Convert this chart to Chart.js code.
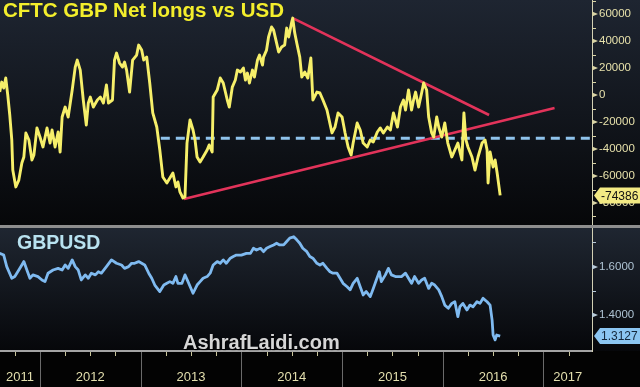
<!DOCTYPE html>
<html>
<head>
<meta charset="utf-8">
<script src="https://cdn.jsdelivr.net/npm/chart.js@4.4.1/dist/chart.umd.min.js"></script>
<style>
  html, body { margin: 0; padding: 0; background: #000; }
  #wrap { position: relative; width: 640px; height: 387px; overflow: hidden; font-family: "Liberation Sans", Arial, sans-serif; }
  #topChart { position: absolute; left: 0; top: 0; }
  #botChart { position: absolute; left: 0; top: 228px; }
  .sep { position: absolute; left: 0; top: 225px; width: 640px; height: 3px; background: #8e8e8e; }
  .title { position: absolute; left: 3px; top: 0; font-weight: bold; font-size: 20.5px; line-height: 20.5px; color: #f3ee2c; white-space: nowrap; }
  .pair { position: absolute; left: 17px; top: 233px; font-weight: bold; font-size: 19.5px; line-height: 19.5px; color: #b8e2f0; white-space: nowrap; }
  .mark { position: absolute; left: 183px; top: 332px; font-weight: bold; font-size: 20px; line-height: 20px; color: #d6d6d6; white-space: nowrap; text-shadow: 1px 1px 1px #000; }
</style>
</head>
<body>
<div id="wrap">
  <canvas id="topChart" width="640" height="225"></canvas>
  <div class="sep"></div>
  <canvas id="botChart" width="640" height="159"></canvas>
  <div class="title">CFTC GBP Net longs vs USD</div>
  <div class="pair">GBPUSD</div>
  <div class="mark">AshrafLaidi.com</div>
</div>
<script>
// time axis in decimal years
const xMin = 2011.603;
const xMax = 2017.482;
const years = [2012, 2013, 2014, 2015, 2016, 2017];

// CFTC GBP net speculative positions (contracts)
const cftcDates = [2011.60, 2011.62, 2011.64, 2011.66, 2011.68, 2011.70, 2011.72, 2011.73, 2011.76, 2011.79,
  2011.82, 2011.84, 2011.86, 2011.89, 2011.92, 2011.94, 2011.97, 2012.00, 2012.03, 2012.07,
  2012.10, 2012.12, 2012.15, 2012.18, 2012.20, 2012.22, 2012.25, 2012.28, 2012.32, 2012.35,
  2012.37, 2012.40, 2012.43, 2012.46, 2012.48, 2012.50, 2012.53, 2012.57, 2012.60, 2012.63,
  2012.66, 2012.68, 2012.72, 2012.74, 2012.76, 2012.79, 2012.82, 2012.84, 2012.86, 2012.89,
  2012.92, 2012.96, 2012.98, 2013.01, 2013.03, 2013.06, 2013.09, 2013.12, 2013.16, 2013.19,
  2013.22, 2013.26, 2013.29, 2013.32, 2013.35, 2013.37, 2013.39, 2013.42, 2013.44, 2013.46,
  2013.49, 2013.52, 2013.54, 2013.56, 2013.59, 2013.62, 2013.66, 2013.68, 2013.71, 2013.72,
  2013.76, 2013.79, 2013.82, 2013.86, 2013.88, 2013.91, 2013.94, 2013.96, 2013.99, 2014.02,
  2014.04, 2014.06, 2014.08, 2014.11, 2014.13, 2014.16, 2014.18, 2014.21, 2014.22, 2014.25,
  2014.27, 2014.30, 2014.32, 2014.35, 2014.37, 2014.40, 2014.43, 2014.45, 2014.47, 2014.50,
  2014.51, 2014.53, 2014.55, 2014.58, 2014.60, 2014.63, 2014.66, 2014.69, 2014.71, 2014.75,
  2014.78, 2014.81, 2014.85, 2014.90, 2014.93, 2014.96, 2015.00, 2015.03, 2015.06, 2015.09,
  2015.11, 2015.15, 2015.18, 2015.21, 2015.25, 2015.28, 2015.31, 2015.35, 2015.38, 2015.41,
  2015.45, 2015.48, 2015.51, 2015.55, 2015.58, 2015.61, 2015.63, 2015.66, 2015.69, 2015.71,
  2015.73, 2015.76, 2015.79, 2015.81, 2015.84, 2015.86, 2015.89, 2015.91, 2015.94, 2015.96,
  2015.99, 2016.02, 2016.05, 2016.09, 2016.12, 2016.15, 2016.19, 2016.21, 2016.23, 2016.25,
  2016.29, 2016.32, 2016.35, 2016.39, 2016.42, 2016.44, 2016.45, 2016.47, 2016.50, 2016.52,
  2016.54, 2016.57];
const cftcValues = [2200, 9600, 5200, 12600, 0, -14800, -33300, -55600, -68100, -63000,
  -50400, -45900, -28100, -33300, -48100, -44400, -24400, -31100, -38500, -24400,
  -35600, -25900, -38500, -27400, -42200, -16300, -8900, -16300, 3700, 20700,
  25900, 18500, -3700, -22200, -5900, -1500, -8900, -3700, -1500, -5900,
  7400, -5900, -3700, 25900, 31100, 23700, 20700, 24400, 18500, 2200,
  25900, 29600, 37000, 33300, 25900, 28100, 8900, -13300, -23700, -40700,
  -60700, -65200, -61500, -57800, -68100, -64400, -71800, -76300, -75600, -35600,
  -18500, -25900, -33300, -45900, -49600, -45900, -40700, -37000, -42200, -1500,
  3700, 12600, 8900, -3700, -8900, 5900, 11100, 18500, 17000, 20000,
  11100, 16300, 8900, 18500, 13300, 25900, 29600, 22200, 28100, 33300,
  43000, 50400, 48100, 38500, 31900, 35600, 37000, 49600, 43000, 54100,
  57000, 45900, 38500, 28100, 13300, 17000, 12600, 27400, -3700, 2200,
  1500, -3700, -11100, -28100, -23700, -13300, -16300, -28100, -38500, -44400,
  -35600, -20700, -25900, -35600, -38500, -33300, -34800, -27400, -24400, -28100,
  -23700, -25900, -13300, -23700, -8900, -3700, -11100, 3700, -11100, -3700,
  2200, -8900, 1500, 8900, 3700, -16300, -28100, -31100, -16300, -23700,
  -31100, -20700, -35600, -45900, -40700, -35600, -48100, -13300, -33300, -38500,
  -45900, -55600, -45900, -35600, -33300, -40700, -65200, -42200, -53300, -48100,
  -57800, -74386];

// trend lines and reference level drawn on the CFTC panel
const trendHighX = [2014.51, 2016.46];
const trendHighY = [57000, -14800];
const trendLowX = [2013.43, 2017.11];
const trendLowY = [-77000, -9600];
const refLevelX = [2013.20, xMax];
const refLevelY = [-32000, -32000];

// GBPUSD spot
const fxDates = [2011.60, 2011.64, 2011.67, 2011.72, 2011.75, 2011.79, 2011.82, 2011.84, 2011.87, 2011.90,
  2011.93, 2011.98, 2012.02, 2012.05, 2012.08, 2012.13, 2012.18, 2012.22, 2012.25, 2012.28,
  2012.32, 2012.35, 2012.38, 2012.41, 2012.45, 2012.48, 2012.51, 2012.55, 2012.58, 2012.61,
  2012.66, 2012.71, 2012.76, 2012.81, 2012.84, 2012.88, 2012.91, 2012.94, 2012.98, 2013.01,
  2013.04, 2013.08, 2013.11, 2013.14, 2013.19, 2013.23, 2013.26, 2013.29, 2013.32, 2013.35,
  2013.37, 2013.41, 2013.44, 2013.47, 2013.52, 2013.56, 2013.59, 2013.62, 2013.66, 2013.69,
  2013.72, 2013.76, 2013.79, 2013.82, 2013.85, 2013.89, 2013.92, 2013.95, 2014.00, 2014.05,
  2014.09, 2014.12, 2014.15, 2014.19, 2014.22, 2014.25, 2014.285, 2014.32, 2014.35, 2014.38,
  2014.42, 2014.45, 2014.48, 2014.52, 2014.55, 2014.58, 2014.61, 2014.65, 2014.68, 2014.71,
  2014.75, 2014.78, 2014.81, 2014.85, 2014.88, 2014.91, 2014.95, 2014.98, 2015.01, 2015.05,
  2015.08, 2015.11, 2015.15, 2015.18, 2015.21, 2015.24, 2015.28, 2015.31, 2015.34, 2015.37,
  2015.39, 2015.43, 2015.46, 2015.49, 2015.53, 2015.56, 2015.59, 2015.63, 2015.66, 2015.69,
  2015.72, 2015.76, 2015.79, 2015.82, 2015.86, 2015.89, 2015.92, 2015.96, 2015.99, 2016.02,
  2016.055, 2016.09, 2016.12, 2016.15, 2016.17, 2016.20, 2016.24, 2016.27, 2016.30, 2016.34,
  2016.37, 2016.40, 2016.44, 2016.47, 2016.49, 2016.50, 2016.52, 2016.535, 2016.57];
const fxValues = [1.655, 1.648, 1.600, 1.552, 1.559, 1.586, 1.607, 1.621, 1.586, 1.552,
  1.566, 1.559, 1.545, 1.538, 1.573, 1.586, 1.593, 1.586, 1.607, 1.593,
  1.628, 1.600, 1.586, 1.545, 1.566, 1.552, 1.573, 1.566, 1.579, 1.573,
  1.600, 1.628, 1.614, 1.607, 1.593, 1.600, 1.614, 1.614, 1.621, 1.614,
  1.607, 1.573, 1.552, 1.524, 1.497, 1.524, 1.531, 1.538, 1.531, 1.559,
  1.531, 1.531, 1.566, 1.538, 1.490, 1.524, 1.538, 1.552, 1.559, 1.573,
  1.607, 1.621, 1.614, 1.628, 1.614, 1.635, 1.642, 1.648, 1.648, 1.655,
  1.655, 1.676, 1.669, 1.676, 1.662, 1.676, 1.683, 1.690, 1.697, 1.690,
  1.690, 1.704, 1.718, 1.724, 1.711, 1.697, 1.676, 1.662, 1.642, 1.635,
  1.614, 1.607, 1.614, 1.593, 1.579, 1.573, 1.573, 1.552, 1.531, 1.517,
  1.504, 1.531, 1.552, 1.517, 1.483, 1.497, 1.476, 1.510, 1.545, 1.579,
  1.538, 1.566, 1.593, 1.566, 1.559, 1.559, 1.559, 1.573, 1.552, 1.531,
  1.559, 1.531, 1.545, 1.552, 1.510, 1.531, 1.524, 1.504, 1.476, 1.441,
  1.428, 1.448, 1.455, 1.393, 1.434, 1.448, 1.421, 1.441, 1.434, 1.455,
  1.448, 1.469, 1.455, 1.441, 1.379, 1.317, 1.297, 1.317, 1.3127];

const cftcTicks = [-90000, -80000, -70000, -60000, -50000, -40000, -30000, -20000, -10000, 0,
  10000, 20000, 30000, 40000, 50000, 60000, 70000];
const fxTicks = [1.4, 1.5, 1.6, 1.7];

const pts = (xs, ys) => xs.map((x, i) => ({ x: x, y: ys[i] }));

// no extra room around the plot for tick labels
const noPad = s => { s.paddingTop = 0; s.paddingBottom = 0; s.paddingLeft = 0; s.paddingRight = 0; };

// background, small axis marks and the last-value flag
const panelDecor = {
  id: 'panelDecor',
  beforeDraw(chart, args, o) {
    const ctx = chart.ctx, a = chart.chartArea;
    ctx.save();
    const g = ctx.createLinearGradient(0, a.top, 0, a.bottom);
    g.addColorStop(0, o.bgTop);
    g.addColorStop(1, o.bgBottom);
    ctx.fillStyle = g;
    ctx.fillRect(0, a.top, chart.width, a.bottom - a.top);
    if (a.bottom < chart.height) {
      ctx.fillStyle = '#030303';
      ctx.fillRect(0, a.bottom, chart.width, chart.height - a.bottom);
    }
    ctx.restore();
  },
  afterDraw(chart, args, o) {
    const ctx = chart.ctx, y = chart.scales.y, x0 = y.left;
    ctx.save();
    ctx.fillStyle = o.tickColor;
    ctx.strokeStyle = o.tickColor;
    y.ticks.forEach(t => {
      const py = Math.round(y.getPixelForValue(t.value));
      if (o.isMajor(t.value)) {
        ctx.beginPath();
        ctx.moveTo(x0, py - 2.5);
        ctx.lineTo(x0 + 6, py);
        ctx.lineTo(x0, py + 2.5);
        ctx.closePath();
        ctx.fill();
      } else {
        ctx.lineWidth = 1;
        ctx.beginPath();
        ctx.moveTo(x0, py + 0.5);
        ctx.lineTo(x0 + 4, py + 0.5);
        ctx.stroke();
      }
    });
    // last value flag
    const vy = y.getPixelForValue(o.last);
    ctx.fillStyle = o.flagFill;
    ctx.beginPath();
    ctx.moveTo(x0 + 2, vy);
    ctx.lineTo(x0 + 8, vy - 8);
    ctx.lineTo(chart.width, vy - 8);
    ctx.lineTo(chart.width, vy + 8);
    ctx.lineTo(x0 + 8, vy + 8);
    ctx.closePath();
    ctx.fill();
    ctx.fillStyle = o.flagText;
    ctx.font = '12px "Liberation Sans", Arial, sans-serif';
    ctx.textBaseline = 'middle';
    ctx.textAlign = 'left';
    ctx.fillText(o.lastLabel, x0 + 9, vy + 1);
    // year separators and quarter ticks on the time axis
    if (o.timeAxis) {
      const xs = chart.scales.x, top = chart.chartArea.bottom + 1;
      ctx.strokeStyle = '#6a6a6a';
      ctx.lineWidth = 1;
      years.forEach(yr => {
        const px = Math.round(xs.getPixelForValue(yr)) + 0.5;
        ctx.beginPath();
        ctx.moveTo(px, top);
        ctx.lineTo(px, chart.height);
        ctx.stroke();
      });
      ctx.strokeStyle = '#c9c49a';
      for (let q = 2011.75; q < xMax; q += 0.25) {
        if (Number.isInteger(q)) continue;
        const px = Math.round(xs.getPixelForValue(q)) + 0.5;
        ctx.beginPath();
        ctx.moveTo(px, top);
        ctx.lineTo(px, top + 4);
        ctx.stroke();
      }
    }
    ctx.restore();
  }
};

const yAxisBase = (min, max, ticks, color, cb) => ({
  type: 'linear',
  position: 'right',
  min: min,
  max: max,
  afterBuildTicks: s => { s.ticks = ticks.map(v => ({ value: v })); },
  afterFit: s => { s.width = 48; noPad(s); },
  grid: { display: false, drawTicks: false },
  border: { display: true, color: '#d2d0b4', width: 1 },
  ticks: {
    padding: 7,
    autoSkip: false,
    color: color,
    font: { family: '"Liberation Sans", Arial, sans-serif', size: 11.5 },
    callback: cb
  }
});

new Chart(document.getElementById('topChart'), {
  type: 'line',
  data: {
    datasets: [
      { data: pts(cftcDates, cftcValues), borderColor: '#f6ef6a', borderWidth: 2.9 },
      { data: pts(trendHighX, trendHighY), borderColor: '#e2335a', borderWidth: 2.6 },
      { data: pts(trendLowX, trendLowY), borderColor: '#e2335a', borderWidth: 2.6 },
      { data: pts(refLevelX, refLevelY), borderColor: '#8fc3ec', borderWidth: 3, borderDash: [9, 6] }
    ]
  },
  options: {
    responsive: false,
    animation: false,
    events: [],
    layout: { padding: 0 },
    elements: { point: { radius: 0 }, line: { tension: 0, borderJoinStyle: 'round' } },
    plugins: {
      legend: { display: false },
      tooltip: { enabled: false },
      panelDecor: {
        bgTop: '#1e2531', bgBottom: '#060709', tickColor: '#d9d4a6',
        isMajor: v => v % 20000 === 0,
        last: cftcValues[cftcValues.length - 1], lastLabel: '-74386',
        flagFill: '#f3ea84', flagText: '#111', timeAxis: false
      }
    },
    scales: {
      x: { type: 'linear', min: xMin, max: xMax, display: false },
      y: yAxisBase(-96300, 70400, cftcTicks, '#e6e0aa', v => (v % 20000 === 0 ? String(v) : ''))
    }
  },
  plugins: [panelDecor]
});

new Chart(document.getElementById('botChart'), {
  type: 'line',
  data: {
    datasets: [
      { data: pts(fxDates, fxValues), borderColor: '#7fbaf0', borderWidth: 2.8 }
    ]
  },
  options: {
    responsive: false,
    animation: false,
    events: [],
    layout: { padding: 0 },
    elements: { point: { radius: 0 }, line: { tension: 0, borderJoinStyle: 'round' } },
    plugins: {
      legend: { display: false },
      tooltip: { enabled: false },
      panelDecor: {
        bgTop: '#1f2631', bgBottom: '#06070a', tickColor: '#b9cbd8',
        isMajor: v => Math.abs(v * 10 % 2) < 1e-6,
        last: fxValues[fxValues.length - 1], lastLabel: '1.3127',
        flagFill: '#8cc6f2', flagText: '#13263a', timeAxis: true
      }
    },
    scales: {
      x: {
        type: 'linear',
        min: xMin,
        max: xMax,
        afterBuildTicks: s => {
          const pos = [(xMin + years[0]) / 2];
          years.slice(0, -1).forEach(yr => pos.push(yr + 0.5));
          pos.push((years[years.length - 1] + xMax) / 2);
          s.ticks = pos.map(v => ({ value: v }));
        },
        afterFit: s => { s.height = 36; noPad(s); },
        grid: { display: false, drawTicks: false },
        border: { display: true, color: '#a4a4a4', width: 2 },
        ticks: {
          padding: 19,
          maxRotation: 0,
          autoSkip: false,
          color: '#e3dfae',
          font: { family: '"Liberation Sans Narrow", "Liberation Sans", Arial, sans-serif', size: 13 },
          callback: v => String(Math.floor(v))
        }
      },
      y: yAxisBase(1.251, 1.760, fxTicks, '#aec3d3', v => (Math.abs(v - 1.4) < 1e-6 || Math.abs(v - 1.6) < 1e-6 ? v.toFixed(4) : ''))
    }
  },
  plugins: [panelDecor]
});
</script>
</body>
</html>
